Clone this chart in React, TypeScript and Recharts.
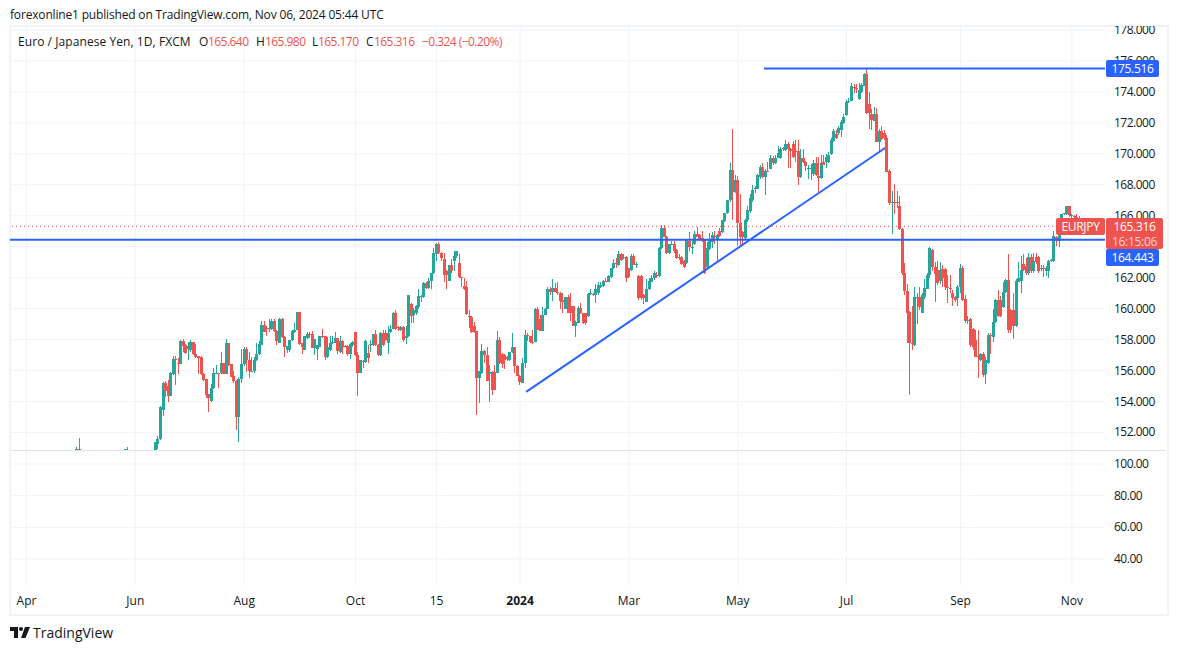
import React from 'react';
import { ComposedChart, Bar, Line, XAxis, YAxis, CartesianGrid, ReferenceLine } from 'recharts';

const green = '#26a69a';
const red = '#ef5350';
const blue = '#2962ff';
const gridColor = '#f0f3fa';
const textColor = '#131722';
const fontFamily = '"Open Sans", sans-serif';

// bars before June only poke up through the pane floor in a few spots
const earlyIndex = [20, 21, 39, 40];
const earlyOpens = [150.7, 150.95, 150.6, 150.85];
const earlyHighs = [151.05, 151.64, 150.95, 151.08];
const earlyLows = [150.5, 150.5, 150.4, 150.5];
const earlyCloses = [150.95, 150.7, 150.93, 150.7];

// daily bars from index 51 on
const firstBar = 51;
const opens = [
  150.3, 151.25, 151.55, 153.45, 155.2, 154.98, 154.36, 155.77, 156.75,
  156.5, 156.42, 157.9, 157.65, 157.4, 157.3, 157.87, 157.1, 156.95, 156.85,
  155.8, 155.45, 154.5, 154.03, 154.85, 155.78, 155.82, 155.82, 156.47, 155.8,
  157.75, 156.4, 155.67, 155.35, 153.02, 155.45, 156.4, 157.4, 156.7, 155.97,
  155.98, 156.65, 157.05, 157.67, 158.94, 158.75, 158.73, 158.68, 159.2, 158.55,
  157.8, 159.3, 158.15, 157.3, 157.3, 157.97, 158.5, 158.6, 159.78, 157.75,
  157.32, 158.1, 158.38, 158.35, 157.45, 157.4, 157.55, 158.2, 158.2, 156.9,
  157.35, 157.75, 157.8, 158.12, 157.22, 157.9, 157.6, 157.6, 157.07, 157.65,
  158.5, 157, 155.87, 156.6, 156.55, 157.11, 157.68, 157.65, 158.37, 157.65,
  157, 158.45, 158.4, 157.75, 158.5, 158.7, 159.72, 158.8, 158.62, 158.84,
  158.1, 158.2, 160.3, 159.6, 159.7, 160.1, 160.8, 160.73, 161.63, 161.35,
  161.8, 162.28, 163.55, 164.18, 163.6, 163.2, 162.45, 161.8, 162.85, 163.05,
  163.4, 162.93, 162.05, 161.45, 161.4, 159.55, 159.45, 158.85, 158.55, 155.55,
  155.85, 157.27, 157, 155.8, 155.9, 155.9, 155.87, 157.98, 157.07, 157,
  156.85, 156.65, 157.2, 157.5, 156.3, 155.65, 155.22, 156.47, 158.3, 158.2,
  157.85, 157.87, 159.98, 159.3, 158.58, 159.6, 160, 161.3, 161.05, 161.35,
  161.1, 161.02, 160.55, 160, 160.75, 160.15, 160.15, 158.9, 159.1, 160.07,
  159.7, 159.7, 159.5, 160.95, 160.93, 160.9, 161, 161.4, 161.45, 161.78,
  161.75, 162.05, 162.6, 162.95, 162.8, 163.5, 163.3, 163.34, 162.6, 162.5,
  163.4, 162.8, 162.1, 162.1, 160.9, 160.45, 161.3, 161.75, 161.95, 162.2,
  162.1, 163.9, 165.2, 164.65, 163.6, 164.15, 164.2, 163.8, 163.28, 163.36,
  163.1, 162.95, 164.37, 163.95, 164.2, 164.85, 164.75, 164.55, 164.43, 162.7,
  163.85, 164.3, 164.7, 164.45, 165, 164.95, 165.65, 166.2, 167, 168.95,
  167.55, 168.3, 165.5, 164.95, 164.55, 165.72, 166.3, 167.05, 167.75, 167.75,
  168.5, 169.17, 168.5, 168.92, 169.05, 169.7, 169.4, 169.75, 169.7, 170.36,
  170.25, 170.63, 170.3, 170.63, 170.2, 170.2, 168.5, 169.7, 169.5, 169.05,
  169.05, 168.7, 169.4, 168.56, 168.42, 169.5, 169.5, 169.5, 170, 170.8,
  171.28, 171.32, 171.55, 172, 172.5, 173.35, 173.43, 174.33, 174.25, 173.55,
  174, 174.4, 175.15, 173.25, 172.6, 172.15, 172.6, 170.75, 171.5, 171.35,
  171.05, 168.9, 166.8, 166.9, 166.9, 166.63, 165.12, 162.28, 161.15, 159.8,
  157.8, 157.65, 160.73, 160.73, 159.73, 160.73, 161.3, 162.2, 163.78, 162.67,
  162.5, 161.8, 162.55, 162.55, 161.4, 161.35, 161, 160.75, 160.7, 161.4,
  162.6, 160.6, 159.2, 159.3, 158.7, 157.97, 156.95, 156.65, 157.1, 155.78,
  156.5, 158.3, 158.15, 159.15, 160.55, 160.55, 160.08, 161.1, 161.85, 159.9,
  159.9, 158.85, 161.75, 161.8, 162.9, 162.75, 162.3, 163.35, 162.4, 163.35,
  163.35, 162.6, 162.62, 162.4, 162.4, 163.1, 163.1, 164.65, 164.35, 165.5,
  166.1, 166.1, 166.6, 166, 165.98, 165.95, 165.64,
];
const highs = [
  151.4, 151.75, 153.7, 155.25, 155.35, 155.4, 155.93, 156.95, 156.95,
  156.8, 157.95, 158.03, 157.7, 157.85, 157.98, 157.87, 157.7, 156.95, 156.95,
  155.85, 155.45, 154.5, 155.1, 156.15, 156.35, 155.85, 157.2, 156.5, 158.03,
  157.78, 156.4, 156, 155.4, 155.6, 157.4, 157.55, 157.5, 157.2, 156.9,
  156.9, 157.77, 157.9, 159.2, 159.2, 158.85, 159.3, 159.3, 159.3, 158.62,
  159.4, 159.4, 158.2, 157.6, 158, 158.6, 159.05, 159.78, 159.78, 157.8,
  158.2, 158.47, 158.5, 158.55, 158.05, 157.65, 158.25, 158.7, 158.25, 158.15,
  158.2, 158.2, 158.47, 158.12, 158.25, 157.95, 157.65, 157.65, 157.75, 157.9,
  158.5, 157.2, 156.7, 156.7, 157.98, 157.65, 157.98, 158.37, 158.62, 157.7,
  158.5, 158.62, 158.6, 158.9, 158.95, 159.8, 159.9, 158.9, 158.9, 158.85,
  158.9, 160.9, 160.35, 160.05, 160.25, 161.3, 160.9, 161.75, 161.75, 161.95,
  162.3, 163.9, 164.27, 164.3, 163.65, 163.6, 162.5, 162.85, 163.2, 163.7,
  163.75, 163.5, 162.07, 162, 161.8, 159.9, 159.5, 159.15, 158.55, 156,
  157.7, 157.3, 157.55, 156.35, 155.95, 156.35, 158.56, 158.15, 157.15, 157.05,
  156.95, 157.2, 158.4, 157.5, 156.35, 155.7, 156.8, 158.6, 158.4, 158.25,
  158.6, 160.05, 160.1, 159.6, 160.1, 160.05, 161.4, 161.4, 161.9, 161.65,
  161.75, 161.05, 161, 160.75, 160.9, 161, 160.2, 159.2, 160.2, 160.35,
  159.75, 159.75, 161, 161.28, 161, 161.6, 161.7, 161.7, 161.85, 161.95,
  162.15, 162.65, 163.2, 163.25, 163.7, 163.6, 163.5, 163.4, 162.65, 163.5,
  163.55, 163, 162.2, 162.15, 160.95, 161.9, 162, 162.15, 162.45, 162.35,
  163.95, 165.4, 165.4, 164.7, 164.2, 164.35, 164.4, 163.85, 163.5, 163.4,
  163.15, 164.45, 164.95, 164.4, 165, 165.3, 164.85, 165, 164.5, 164.3,
  164.9, 164.95, 165, 164.85, 165.2, 165.75, 166.2, 167.05, 169.4, 171.6,
  168.65, 168.6, 167.4, 165, 165.8, 166.6, 167.4, 168, 167.9, 168.7,
  169.3, 169.4, 169, 169.5, 169.9, 169.85, 169.9, 170.5, 170.45, 170.45,
  170.9, 170.75, 170.4, 170.85, 170.9, 170.9, 170.3, 170.3, 169.55, 169.3,
  169.35, 169.6, 169.8, 169.8, 169.95, 169.9, 170, 170.1, 171, 171.6,
  171.55, 171.8, 172.2, 172.55, 173.5, 173.6, 174.55, 174.5, 174.5, 174.6,
  174.6, 175.25, 175.52, 174, 172.9, 173, 172.95, 171.6, 171.8, 171.55,
  171.2, 169, 167.6, 168.05, 167.6, 167.3, 165.2, 162.95, 161.6, 159.85,
  160.2, 161.4, 161, 161.4, 161, 161.9, 162.3, 163.95, 163.85, 163,
  163.05, 163, 162.85, 162.6, 162.15, 162.15, 161.2, 160.8, 161.5, 162.9,
  162.75, 160.9, 159.5, 159.4, 158.75, 158.6, 158.6, 157.15, 157.2, 156.85,
  158.4, 158.4, 160, 160.6, 161.2, 160.8, 161.7, 161.9, 163.5, 160,
  161, 161.9, 163, 163.4, 163.55, 163.3, 163.6, 163.55, 163.6, 163.6,
  163.4, 162.85, 162.85, 162.75, 163.15, 163.2, 165, 164.7, 165.8, 166.1,
  166.15, 166.65, 166.65, 166.1, 166.05, 166.1, 165.98,
];
const lows = [
  150.1, 150.95, 151.5, 153.05, 154.3, 154, 154.35, 155.7, 155.08,
  155.8, 156.4, 157.22, 157.1, 156.68, 157.2, 157, 156.8, 155.8, 155.7,
  155.35, 154.2, 153.35, 153.95, 154.8, 155.75, 154.88, 155.8, 155.8, 155.78,
  156.3, 155.58, 155.17, 152.16, 151.4, 155.2, 156.3, 155.9, 155.55, 155.9,
  155.85, 156.62, 157, 157.65, 158.5, 158.2, 158.5, 158.65, 158.5, 157.65,
  157.75, 158.1, 156.9, 157.15, 157.2, 157.9, 158.45, 158.6, 157.65, 157.07,
  157.3, 158.05, 158.1, 157.45, 157, 156.65, 157.5, 158.1, 156.65, 156.8,
  157.25, 157.7, 157.75, 157.07, 157.15, 157.1, 157.5, 156.95, 156.77, 157.5,
  156.95, 154.38, 155.87, 156.15, 156.5, 156.5, 157.2, 157.6, 157.6, 156.95,
  156.95, 157.6, 157.9, 157.1, 158.4, 158.7, 158.6, 158.55, 158.55, 157.85,
  157.7, 158.15, 159.1, 159.1, 159.6, 160, 160.45, 160.7, 161.3, 161.3,
  161.3, 162.25, 163.1, 163.55, 163.1, 161.7, 161.3, 161.8, 162.3, 162.4,
  163.3, 162, 161.4, 161.2, 159.6, 158.75, 158.45, 158.4, 153.13, 153.9,
  155.8, 156.5, 155.35, 154, 154.43, 154.75, 155.85, 156.4, 156.15, 156.1,
  156.6, 156.6, 157.15, 155.87, 155.65, 155.08, 155.2, 156.15, 157.9, 157.75,
  157.7, 157.85, 158.6, 158.55, 158.55, 159.6, 159.95, 160.9, 160.5, 161.05,
  160.85, 160, 159.7, 159.95, 159.72, 159.2, 158.85, 158.15, 159.05, 159.65,
  159, 158.97, 159.45, 160.9, 160.8, 160.35, 160.9, 161.35, 161.4, 161.7,
  161.7, 162, 162.55, 162.65, 162.75, 163.1, 163.2, 161.75, 162, 162.45,
  162.8, 162.6, 160.55, 160.55, 160.3, 160.4, 161.2, 161.7, 161.85, 162,
  162.05, 163.85, 164.6, 163.55, 163.55, 164.1, 163.6, 163.2, 163.15, 162.85,
  162.6, 162.9, 163.7, 163.5, 164.1, 164.6, 164.4, 164.3, 162.25, 162.65,
  163.8, 163.9, 164.2, 163.03, 164.65, 164.9, 165.6, 166.1, 166.9, 165.7,
  167.5, 164.05, 164.1, 164.1, 164.5, 165.6, 166.2, 166.9, 167.5, 167.7,
  168.4, 168.45, 167.35, 168.8, 169, 169.3, 169.35, 169.7, 169.65, 170.2,
  170.2, 169.1, 169.1, 169.75, 169.5, 168, 168.45, 169.4, 168.9, 168.35,
  168.3, 168.6, 168.55, 167.55, 168.35, 169.25, 169.1, 169.4, 169.95, 170.75,
  170.95, 171.2, 171.1, 171.95, 172.45, 173.3, 173.4, 173.9, 173.9, 173.5,
  173.9, 174.35, 172.55, 171.6, 171.55, 172.1, 170.75, 170.1, 170.9, 170.9,
  168.8, 166.7, 164.85, 166.1, 166.5, 165.1, 162.2, 160.9, 157.75, 154.42,
  157.35, 157.6, 158.98, 159.9, 159.7, 160.6, 161.25, 162, 162.4, 160.45,
  161.5, 161.6, 161.4, 161.2, 160.35, 161, 160.2, 160.4, 160.15, 161,
  160.5, 159.1, 159, 157.5, 157.35, 156.85, 155.5, 156.6, 155.6, 155.13,
  156.45, 157.1, 157.85, 159.1, 159.45, 159.45, 160.05, 161, 158.45, 158.4,
  158.05, 158.8, 161.7, 161, 162.4, 162.2, 162.2, 162.3, 162.3, 162.9,
  162.3, 162.4, 162.05, 162.1, 162, 163, 163, 164.05, 164, 165,
  166.05, 166.05, 165.9, 165.5, 165.5, 165.5, 165.17,
];
const closes = [
  151.4, 151.55, 153.65, 155.2, 154.7, 154.36, 155.86, 156.75, 156.7,
  156.45, 157.9, 157.6, 157.15, 157.6, 157.87, 157.07, 156.9, 156.8, 155.78,
  155.4, 154.45, 154.2, 154.9, 155.85, 155.82, 155.75, 156.47, 155.8, 157.75,
  156.36, 155.6, 155.35, 153.02, 155.45, 156.4, 157.4, 156.7, 155.97, 156,
  156.7, 157.07, 157.72, 158.94, 158.52, 158.7, 158.68, 159.22, 158.55, 157.9,
  159.3, 158.15, 157.55, 157.58, 157.97, 158.55, 158.6, 159.78, 157.72, 157.55,
  158.2, 158.36, 158.34, 157.45, 158.05, 157.62, 158.2, 158.15, 156.9, 157.55,
  157.75, 157.85, 158.12, 157.27, 157.9, 157.55, 157.55, 157.07, 157.7, 157.85,
  157, 155.87, 156.69, 156.55, 157.9, 156.8, 157.72, 158.37, 157.65, 157,
  158.45, 157.65, 157.95, 158.42, 158.7, 159.72, 158.7, 158.76, 158.84, 157.98,
  158.2, 160.9, 159.5, 159.9, 160.2, 160.8, 160.83, 161.68, 161.35, 161.8,
  162.28, 163.6, 164.18, 163.6, 163.25, 162.2, 162.2, 162.8, 162.4, 163.4,
  163.7, 162.03, 162, 161.3, 159.65, 159.5, 158.5, 158.5, 155.55, 155.98,
  157.27, 157, 155.35, 155.9, 154.75, 154.75, 157.98, 156.47, 156.43, 156.68,
  156.75, 157.2, 157.5, 156.3, 155.65, 155.28, 156.47, 158.3, 158.2, 157.87,
  157.8, 159.98, 158.63, 158.58, 159.6, 160, 161.3, 161.05, 161.33, 161.1,
  161.05, 160.5, 160.45, 160.73, 159.75, 159.75, 158.9, 159.15, 160.07, 159.7,
  159.1, 159.05, 160.95, 161, 160.88, 161.3, 161.5, 161.5, 161.78, 161.75,
  162.1, 162.6, 162.95, 162.9, 163.5, 163.15, 163.35, 162, 162.05, 163.4,
  162.85, 162.9, 160.7, 160.7, 160.7, 161.3, 161.8, 161.95, 162.3, 162.1,
  163.9, 165.2, 164.65, 163.6, 164.15, 164.2, 163.75, 163.25, 163.32, 162.87,
  162.67, 164.43, 164, 164, 164.85, 164.65, 164.45, 164.35, 162.3, 163.9,
  164.43, 164.75, 164.65, 164.75, 164.7, 165.7, 166.2, 167, 168.95, 167.55,
  168.3, 165.5, 164.65, 164.65, 165.72, 166.37, 167.12, 167.66, 167.8, 168.63,
  169.17, 168.5, 168.9, 168.88, 169.7, 169.4, 169.7, 170.05, 170.3, 170.33,
  170.63, 170.3, 170.2, 169.8, 170.15, 168.5, 169.7, 169.45, 169.2, 169.07,
  169.1, 169.4, 168.63, 168.42, 169.4, 169.3, 169.8, 169.95, 170.9, 171.5,
  171, 171.65, 172.07, 172.4, 173.37, 173.43, 174.38, 174.23, 174.2, 174.1,
  174.45, 175.15, 172.62, 172.62, 172.2, 172.6, 170.78, 171.5, 170.95, 171,
  168.85, 166.8, 166.9, 166.85, 166.85, 165.12, 162.28, 161.15, 159.73, 157.75,
  157.7, 160.77, 160.78, 160.1, 160.9, 161.35, 162.2, 163.9, 162.67, 162.25,
  161.63, 162.5, 161.95, 161.42, 161.35, 161.3, 160.7, 160.55, 161.4, 162.6,
  160.55, 159.2, 159.25, 157.65, 157.5, 156.9, 156.9, 157.1, 155.7, 156.7,
  158.3, 158.2, 159.15, 160.55, 159.5, 159.5, 161.1, 161.85, 158.6, 158.6,
  158.85, 161.8, 162, 162.5, 162.5, 162.3, 163.35, 162.4, 163.1, 163,
  162.4, 162.65, 162.58, 162.65, 163.1, 163.15, 164.7, 164.35, 165.6, 166.1,
  166.15, 166.6, 166.05, 166.05, 165.9, 165.85, 165.316,
];

const priceTicks = [178, 176, 174, 172, 170, 168, 166, 164, 162, 160, 158, 156, 154, 152];
const lowerTicks = [100, 80, 60, 40];
const monthTicks = [0, 43, 86, 130, 162, 195, 238, 281, 324, 369, 413];
const monthLabels = ['Apr', 'Jun', 'Aug', 'Oct', '15', '2024', 'Mar', 'May', 'Jul', 'Sep', 'Nov'];

const topLevel = 175.516;
const supportLevel = 164.443;
const lastPrice = 165.316;
const trendFrom = { x: 197.4, y: 154.62 };
const trendTo = { x: 339.2, y: 170.38 };
const topLineStart = 291.4;

const xDomain: [number, number] = [-6.52, 426.1];

const candles = [
  ...earlyIndex.map((bar, i) => ({
    bar,
    open: earlyOpens[i],
    close: earlyCloses[i],
    range: [earlyLows[i], earlyHighs[i]],
  })),
  ...opens.map((open, i) => ({
    bar: firstBar + i,
    open,
    close: closes[i],
    range: [lows[i], highs[i]],
  })),
];

const Candle = (props: any) => {
  const { x, y, width, height, payload } = props;
  const [low, high] = payload.range;
  const perUnit = height / (high - low);
  const center = x + width / 2;
  const wickX = Math.round(center - 0.5);
  const top = y + (high - Math.max(payload.open, payload.close)) * perUnit;
  const bottom = y + (high - Math.min(payload.open, payload.close)) * perUnit;
  const color = payload.close >= payload.open ? green : red;
  return (
    <g shapeRendering="crispEdges">
      <rect x={wickX} y={y} width={1} height={height} fill={color} />
      <rect x={wickX - 1} y={top} width={3} height={Math.max(bottom - top, 1)} fill={color} />
    </g>
  );
};

const MonthTick = ({ x, y, payload }: any) => {
  const label = monthLabels[monthTicks.indexOf(payload.value)];
  return (
    <text
      x={x}
      y={y + 12}
      textAnchor="middle"
      fontSize={12}
      fontFamily={fontFamily}
      fontWeight={label === '2024' ? 700 : 400}
      fill={textColor}
    >
      {label}
    </text>
  );
};

const PriceTick = ({ x, y, payload, digits }: any) => (
  <text
    x={x}
    y={y + 4}
    textAnchor="start"
    fontSize={12}
    fontFamily={fontFamily}
    letterSpacing={-0.5}
    fill={textColor}
  >
    {payload.value.toFixed(digits)}
  </text>
);

const abs = (left: number, top: number, extra: React.CSSProperties = {}): React.CSSProperties => ({
  position: 'absolute',
  left,
  top,
  fontFamily,
  fontSize: 12,
  lineHeight: '16px',
  whiteSpace: 'nowrap',
  color: textColor,
  ...extra,
});

const Badge = ({ left, top, width, height, color, children }: any) => (
  <div
    style={abs(left, top, {
      width,
      height,
      background: color,
      color: '#fff',
      borderRadius: 2,
      textAlign: 'center',
      letterSpacing: -0.3,
      lineHeight: height + 'px',
    })}
  >
    {children}
  </div>
);

const tight = { letterSpacing: -0.55 };

export default function App() {
  return (
    <div style={{ position: 'absolute', left: 0, top: 0, width: 1177, height: 650, background: '#fff', overflow: 'hidden' }}>
      <div style={abs(10, 7, { letterSpacing: -0.17 })}>forexonline1 published on TradingView.com, Nov 06, 2024 05:44 UTC</div>

      <div style={{ position: 'absolute', left: 9, top: 25, width: 1156, height: 587, border: '2px solid #f0f3fa' }} />
      <div style={{ position: 'absolute', left: 10, top: 450, width: 1156, height: 1, background: '#e0e3eb' }} />

      <div style={{ position: 'absolute', left: 10, top: 26 }}>
        <ComposedChart width={1157} height={424} data={candles} margin={{ top: 0, right: 0, bottom: 0, left: 0 }}>
          <CartesianGrid stroke={gridColor} horizontalValues={priceTicks} verticalValues={monthTicks} />
          <XAxis dataKey="bar" type="number" domain={xDomain} ticks={monthTicks} allowDataOverflow hide />
          <YAxis
            orientation="right"
            width={62}
            domain={[150.868, 178.258]}
            ticks={priceTicks}
            interval={0}
            allowDataOverflow
            axisLine={false}
            tickLine={false}
            tickMargin={3}
            tick={<PriceTick digits={3} />}
          />
          <Bar dataKey="range" barSize={3} shape={<Candle />} isAnimationActive={false} />
          <ReferenceLine y={lastPrice} stroke={red} strokeDasharray="1 3" />
          <ReferenceLine y={supportLevel} stroke={blue} strokeWidth={2} />
          <ReferenceLine segment={[{ x: topLineStart, y: topLevel }, { x: xDomain[1], y: topLevel }]} stroke={blue} strokeWidth={2} />
          <ReferenceLine segment={[trendFrom, trendTo]} stroke={blue} strokeWidth={2} />
        </ComposedChart>
      </div>

      <div style={{ position: 'absolute', left: 10, top: 451 }}>
        <ComposedChart width={1157} height={163} data={candles} margin={{ top: 0, right: 0, bottom: 0, left: 0 }}>
          <CartesianGrid stroke={gridColor} horizontalValues={lowerTicks} verticalValues={monthTicks} />
          <XAxis
            dataKey="bar"
            type="number"
            domain={xDomain}
            ticks={monthTicks}
            interval={0}
            allowDataOverflow
            height={29}
            axisLine={false}
            tickLine={false}
            tick={<MonthTick />}
          />
          <YAxis
            orientation="right"
            width={62}
            domain={[23.58, 108.2]}
            ticks={lowerTicks}
            interval={0}
            allowDataOverflow
            axisLine={false}
            tickLine={false}
            tickMargin={3}
            tick={<PriceTick digits={2} />}
          />
          <Line dataKey="lowerPane" isAnimationActive={false} dot={false} stroke="none" />
        </ComposedChart>
      </div>

      <div style={abs(18, 34, { letterSpacing: 0.07 })}>Euro / Japanese Yen, 1D, FXCM</div>
      <div style={abs(199, 34)}>O</div>
      <div style={abs(208, 34, { color: red, ...tight })}>165.640</div>
      <div style={abs(256, 34)}>H</div>
      <div style={abs(265, 34, { color: red, ...tight })}>165.980</div>
      <div style={abs(312, 34)}>L</div>
      <div style={abs(318, 34, { color: red, ...tight })}>165.170</div>
      <div style={abs(366, 34)}>C</div>
      <div style={abs(374, 34, { color: red, ...tight })}>165.316</div>
      <div style={abs(422, 34, { color: red, ...tight })}>−0.324 (−0.20%)</div>

      <Badge left={1106} top={60} width={53} height={17} color={blue}>175.516</Badge>
      <Badge left={1056} top={218} width={49} height={17} color={red}>EURJPY</Badge>
      <div style={abs(1106, 218, { width: 57, height: 31, background: red, borderRadius: 2, color: '#fff', textAlign: 'center', lineHeight: '15px', paddingTop: 1, boxSizing: 'border-box', letterSpacing: -0.3 })}>
        165.316
        <div style={{ color: '#ffd5d3' }}>16:15:06</div>
      </div>
      <Badge left={1106} top={249} width={53} height={17} color={blue}>164.443</Badge>

      <svg style={{ position: 'absolute', left: 10, top: 627 }} width={20} height={11} viewBox="0 0 20 11">
        <path d="M0 0H8V11H4V4H0Z M15 0H20L15.5 11H11Z" fill={textColor} />
        <circle cx={11} cy={2} r={2} fill={textColor} />
      </svg>
      <div style={abs(33, 624, { fontSize: 14, lineHeight: '18px' })}>TradingView</div>
    </div>
  );
}
